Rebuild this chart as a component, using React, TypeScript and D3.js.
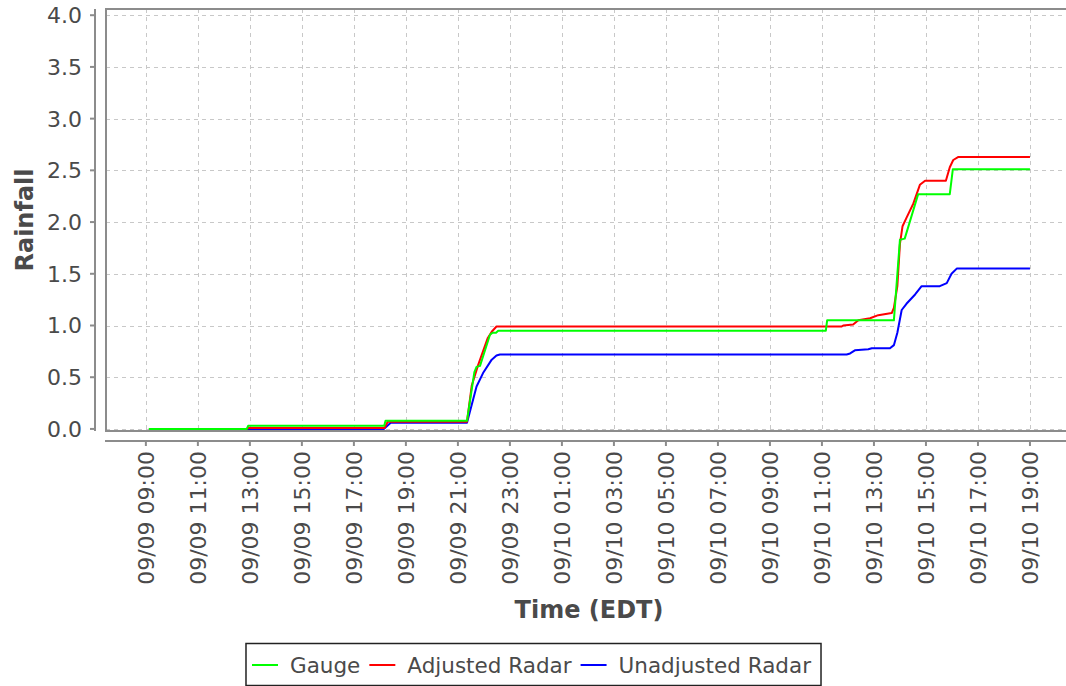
import React, { useEffect, useRef } from "react";
import * as d3 from "d3";

// Rainfall accumulation (inches) by time (EDT), "MM/DD HH:MM"
const gaugeData: [string, number][] = [
  ["09/09 09:07", 0], ["09/09 12:53", 0], ["09/09 12:56", 0.03], ["09/09 18:10", 0.03],
  ["09/09 18:13", 0.08], ["09/09 21:21", 0.08], ["09/09 21:38", 0.55], ["09/09 21:43", 0.6],
  ["09/09 21:51", 0.61], ["09/09 22:14", 0.91], ["09/09 22:20", 0.93], ["09/09 22:28", 0.93],
  ["09/09 22:33", 0.95], ["09/10 11:09", 0.95], ["09/10 11:12", 1.05], ["09/10 13:46", 1.05],
  ["09/10 14:00", 1.83], ["09/10 14:11", 1.84], ["09/10 14:42", 2.27], ["09/10 15:55", 2.27],
  ["09/10 16:02", 2.51], ["09/10 19:00", 2.51],
];

const adjustedData: [string, number][] = [
  ["09/09 09:07", 0], ["09/09 12:53", 0], ["09/09 12:57", 0.01], ["09/09 18:11", 0.01],
  ["09/09 18:18", 0.07], ["09/09 21:21", 0.07], ["09/09 21:32", 0.42], ["09/09 21:46", 0.61],
  ["09/09 22:09", 0.88], ["09/09 22:18", 0.94], ["09/09 22:29", 0.99], ["09/10 11:45", 0.99],
  ["09/10 11:49", 1.0], ["09/10 12:12", 1.01], ["09/10 12:24", 1.05], ["09/10 12:51", 1.07],
  ["09/10 13:10", 1.1], ["09/10 13:41", 1.12], ["09/10 13:46", 1.17], ["09/10 13:54", 1.38],
  ["09/10 14:00", 1.79], ["09/10 14:06", 1.96], ["09/10 14:15", 2.04], ["09/10 14:31", 2.18],
  ["09/10 14:46", 2.36], ["09/10 14:58", 2.4], ["09/10 15:46", 2.4], ["09/10 15:55", 2.53],
  ["09/10 16:03", 2.6], ["09/10 16:15", 2.63], ["09/10 19:00", 2.63],
];

const unadjustedData: [string, number][] = [
  ["09/09 09:07", 0], ["09/09 18:09", 0], ["09/09 18:25", 0.06], ["09/09 21:21", 0.06],
  ["09/09 21:43", 0.41], ["09/09 21:58", 0.54], ["09/09 22:18", 0.67], ["09/09 22:29", 0.71],
  ["09/09 22:37", 0.72], ["09/10 11:57", 0.72], ["09/10 12:05", 0.73], ["09/10 12:16", 0.76],
  ["09/10 12:47", 0.77], ["09/10 12:55", 0.78], ["09/10 13:37", 0.78], ["09/10 13:46", 0.81],
  ["09/10 13:54", 0.93], ["09/10 14:04", 1.15], ["09/10 14:15", 1.21], ["09/10 14:35", 1.3],
  ["09/10 14:50", 1.38], ["09/10 15:32", 1.38], ["09/10 15:48", 1.41], ["09/10 15:59", 1.5],
  ["09/10 16:11", 1.55], ["09/10 19:00", 1.55],
];

const seriesNames = ["Gauge", "Adjusted Radar", "Unadjusted Radar"];
const seriesColors = ["#00ff00", "#ff0000", "#0000ff"];

const yTicks = [0, 0.5, 1.0, 1.5, 2.0, 2.5, 3.0, 3.5, 4.0];
const xTickLabels = [
  "09/09 09:00", "09/09 11:00", "09/09 13:00", "09/09 15:00", "09/09 17:00", "09/09 19:00",
  "09/09 21:00", "09/09 23:00", "09/10 01:00", "09/10 03:00", "09/10 05:00", "09/10 07:00",
  "09/10 09:00", "09/10 11:00", "09/10 13:00", "09/10 15:00", "09/10 17:00", "09/10 19:00",
];
const xDomain = ["09/09 07:28", "09/10 20:37"];
const yDomain = [-0.02, 4.06];

export default function App() {
  const ref = useRef<SVGSVGElement>(null);

  useEffect(() => {
    const svg = d3.select(ref.current);
    svg.selectAll("*").remove();
    const parse = d3.timeParse("%m/%d %H:%M");
    const font = "'DejaVu Sans', sans-serif";
    const textColor = "#4a4a4a";
    const plot = { left: 106, right: 1072, top: 9, bottom: 431 };
    const x = d3.scaleTime().domain(xDomain.map((s) => parse(s) as Date)).range([plot.left, plot.right]);
    const y = d3.scaleLinear().domain(yDomain).range([plot.bottom, plot.top]);

    svg.append("rect").attr("width", 1066).attr("height", 686).attr("fill", "#fff");

    // grid
    const grid = svg.append("g").attr("stroke", "#c8c8c8").attr("stroke-width", 1).attr("stroke-dasharray", "4,4");
    yTicks.forEach((t) => {
      grid.append("line").attr("x1", plot.left).attr("x2", plot.right)
        .attr("y1", Math.round(y(t)) + 0.5).attr("y2", Math.round(y(t)) + 0.5);
    });
    xTickLabels.forEach((l) => {
      const xx = Math.round(x(parse(l) as Date)) + 0.5;
      grid.append("line").attr("x1", xx).attr("x2", xx).attr("y1", plot.top).attr("y2", plot.bottom);
    });

    // series (drawn reverse so Gauge is on top)
    const datasets = [gaugeData, adjustedData, unadjustedData];
    const line = d3.line<[string, number]>()
      .x((d) => x(parse(d[0]) as Date))
      .y((d) => y(d[1]));
    for (let i = datasets.length - 1; i >= 0; i--) {
      svg.append("path").attr("d", line(datasets[i]) as string).attr("fill", "none")
        .attr("stroke", seriesColors[i]).attr("stroke-width", 2).attr("stroke-linejoin", "round");
    }

    // plot border
    svg.append("rect").attr("x", plot.left).attr("y", plot.top)
      .attr("width", plot.right - plot.left).attr("height", plot.bottom - plot.top)
      .attr("fill", "none").attr("stroke", "#8c8c8c").attr("stroke-width", 2);

    // y axis
    const yAxisX = 95;
    svg.append("line").attr("x1", yAxisX).attr("x2", yAxisX).attr("y1", plot.top).attr("y2", plot.bottom)
      .attr("stroke", "#8c8c8c").attr("stroke-width", 2);
    yTicks.forEach((t) => {
      const yy = y(t);
      svg.append("line").attr("x1", yAxisX - 5).attr("x2", yAxisX).attr("y1", yy).attr("y2", yy)
        .attr("stroke", "#8c8c8c").attr("stroke-width", 2);
      svg.append("text").attr("x", 82).attr("y", yy).attr("dy", "0.36em").attr("text-anchor", "end")
        .attr("font-family", font).attr("font-size", 22).attr("fill", textColor).text(d3.format(".1f")(t));
    });
    svg.append("text").attr("transform", `translate(24,${(plot.top + plot.bottom) / 2}) rotate(-90)`)
      .attr("dy", "0.36em").attr("text-anchor", "middle").attr("font-family", font)
      .attr("font-weight", "bold").attr("font-size", 24).attr("fill", textColor).text("Rainfall");

    // x axis
    const xAxisY = 441;
    svg.append("line").attr("x1", plot.left - 1).attr("x2", plot.right).attr("y1", xAxisY).attr("y2", xAxisY)
      .attr("stroke", "#8c8c8c").attr("stroke-width", 2);
    xTickLabels.forEach((l) => {
      const xx = x(parse(l) as Date);
      svg.append("line").attr("x1", xx).attr("x2", xx).attr("y1", xAxisY).attr("y2", xAxisY + 5)
        .attr("stroke", "#8c8c8c").attr("stroke-width", 2);
      svg.append("text").attr("transform", `translate(${xx},451) rotate(-90)`)
        .attr("dy", "0.35em").attr("text-anchor", "end").attr("font-family", font)
        .attr("font-size", 22).attr("fill", textColor).text(l);
    });
    svg.append("text").attr("x", (plot.left + plot.right) / 2).attr("y", 609).attr("dy", "0.36em")
      .attr("text-anchor", "middle").attr("font-family", font).attr("font-weight", "bold")
      .attr("font-size", 24).attr("fill", textColor).text("Time (EDT)");

    // legend
    const lg = svg.append("g");
    const lineLen = 26, gapAfterLine = 12, gapBetween = 9, padL = 6, padR = 10;
    const items = seriesNames.map((name, i) => {
      const t = lg.append("text").attr("font-family", font).attr("font-size", 21.5).attr("fill", textColor)
        .attr("y", 665).attr("dy", "0.36em").text(name);
      return { t, w: (t.node() as SVGTextElement).getComputedTextLength(), color: seriesColors[i] };
    });
    const total = padL + padR + items.reduce((s, it) => s + lineLen + gapAfterLine + it.w, 0) + gapBetween * (items.length - 1);
    const cx = 533.5;
    let cur = cx - total / 2;
    const boxLeft = cur;
    cur += padL;
    items.forEach((it) => {
      lg.append("line").attr("x1", cur).attr("x2", cur + lineLen).attr("y1", 665).attr("y2", 665)
        .attr("stroke", it.color).attr("stroke-width", 2);
      cur += lineLen + gapAfterLine;
      it.t.attr("x", cur);
      cur += it.w + gapBetween;
    });
    lg.insert("rect", ":first-child").attr("x", boxLeft).attr("y", 643.5).attr("width", total).attr("height", 42)
      .attr("fill", "#fff").attr("stroke", "#222").attr("stroke-width", 1.5);
  }, []);

  return (
    <svg ref={ref} width={1066} height={686}
      style={{ position: "absolute", left: 0, top: 0, display: "block" }} />
  );
}
